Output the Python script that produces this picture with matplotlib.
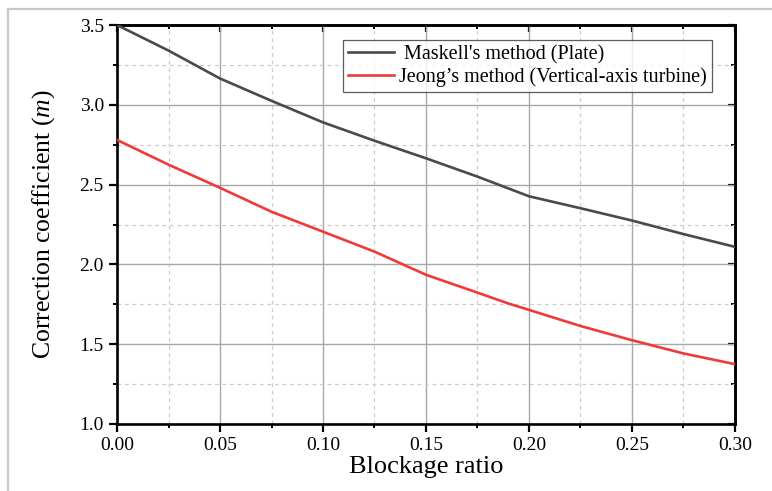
import matplotlib
matplotlib.use("Agg")
import matplotlib.pyplot as plt
from matplotlib.lines import Line2D
from matplotlib.ticker import MultipleLocator

plt.rcParams['font.family'] = ['Liberation Serif', 'DejaVu Serif']
plt.rcParams['mathtext.fontset'] = 'custom'
plt.rcParams['mathtext.rm'] = 'Liberation Serif'
plt.rcParams['mathtext.it'] = 'Liberation Serif:italic'

# blockage ratio and correction coefficient
maskell_x = [0.0, 0.025, 0.05, 0.075, 0.1, 0.125, 0.15, 0.175, 0.2, 0.225, 0.25, 0.275, 0.3]
maskell_m = [3.50, 3.34, 3.165, 3.025, 2.89, 2.775, 2.665, 2.55, 2.427, 2.352, 2.275, 2.19, 2.11]

jeong_x = [0.0, 0.025, 0.05, 0.075, 0.1, 0.125, 0.15, 0.175, 0.19, 0.2, 0.225, 0.25, 0.275, 0.3]
jeong_m = [2.78, 2.625, 2.48, 2.33, 2.205, 2.08, 1.935, 1.823, 1.755, 1.715, 1.614, 1.525, 1.442, 1.375]

labels = [" Maskell's method (Plate)", "Jeong\u2019s method (Vertical-axis turbine)"]

fig = plt.figure(figsize=(7.72, 4.91), dpi=100)
ax = fig.add_axes([0.1516, 0.1365, 0.8004, 0.8125])

ax.plot(maskell_x, maskell_m, color='#4a4a4a', lw=1.9, label=labels[0], zorder=3)
ax.plot(jeong_x, jeong_m, color='#f03a3a', lw=1.9, label=labels[1], zorder=3)

ax.set_xlim(0, 0.3)
ax.set_ylim(1.0, 3.5)
ax.xaxis.set_major_locator(MultipleLocator(0.05))
ax.xaxis.set_minor_locator(MultipleLocator(0.025))
ax.yaxis.set_major_locator(MultipleLocator(0.5))
ax.yaxis.set_minor_locator(MultipleLocator(0.25))
ax.xaxis.set_major_formatter(plt.FormatStrFormatter('%.2f'))
ax.yaxis.set_major_formatter(plt.FormatStrFormatter('%.1f'))

ax.grid(which='major', color='#a8a8a8', lw=1.0, ls='-')
ax.grid(which='minor', color='#cccccc', lw=0.9, ls=(0, (3, 3)))
ax.set_axisbelow(True)

for s in ax.spines.values():
    s.set_linewidth(1.9)
ax.tick_params(which='major', direction='out', length=5.5, width=1.6, labelsize=14,
               top=False, right=False)
ax.tick_params(which='minor', direction='out', length=3, width=1.4,
               top=False, right=False)
ax.tick_params(axis='x', pad=4)
ax.tick_params(axis='y', pad=4)

# inward ticks on top and right, like Origin's mirrored axes
axt = ax.secondary_xaxis('top')
axt.xaxis.set_major_locator(MultipleLocator(0.05))
axt.xaxis.set_minor_locator(MultipleLocator(0.025))
axt.tick_params(which='major', direction='in', length=5, width=1.6, labeltop=False)
axt.tick_params(which='minor', direction='in', length=3, width=1.4)
axt.spines['top'].set_linewidth(1.9)
axr = ax.secondary_yaxis('right')
axr.yaxis.set_major_locator(MultipleLocator(0.5))
axr.yaxis.set_minor_locator(MultipleLocator(0.25))
axr.tick_params(which='major', direction='in', length=5, width=1.6, labelright=False)
axr.tick_params(which='minor', direction='in', length=3, width=1.4)
axr.spines['right'].set_linewidth(1.9)

ax.set_xlabel('Blockage ratio', fontsize=19, labelpad=1)
ax.set_ylabel(r'Correction coefficient ($m$)', fontsize=18.5)
ax.yaxis.set_label_coords(-0.097, 0.5)

leg = ax.legend(loc='upper right', bbox_to_anchor=(0.963, 0.962), fontsize=14.5,
                frameon=True, fancybox=False, edgecolor='#333333',
                handlelength=2.3, handletextpad=0.25, labelspacing=0.15,
                borderpad=0.25, borderaxespad=0)
leg.get_frame().set_linewidth(0.9)

# light frame of the original screenshot
fig.add_artist(Line2D([8 / 772, 8 / 772], [0, 1 - 9 / 491], transform=fig.transFigure,
                      color='#c8c8c8', lw=1.6))
fig.add_artist(Line2D([8 / 772, 1], [1 - 9 / 491, 1 - 9 / 491], transform=fig.transFigure,
                      color='#c8c8c8', lw=1.6))

fig.savefig('out.png', dpi=100)
